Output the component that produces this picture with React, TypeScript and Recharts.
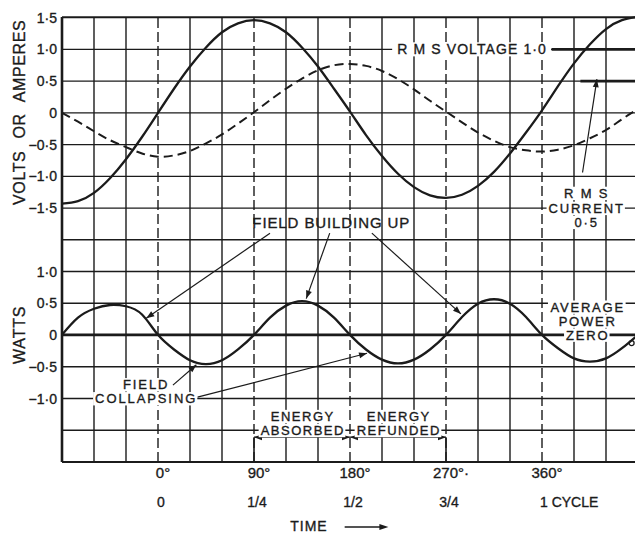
import React from 'react';
import {
  ComposedChart,
  Line,
  XAxis,
  YAxis,
  CartesianGrid,
  ReferenceLine,
  ReferenceDot,
} from 'recharts';

// ---------- data ----------
const angles = [
  -90, -75, -60, -45, -30, -15, 0, 15, 30, 45, 60, 75, 90, 105, 120, 135, 150, 165, 180,
  195, 210, 225, 240, 255, 270, 285, 300, 315, 330, 345, 360, 375, 390, 405, 420, 435, 450,
];
const voltage = [
  -1.43, -1.39, -1.26, -1.03, -0.73, -0.38, 0.0, 0.38, 0.73, 1.03, 1.27, 1.41, 1.46, 1.41,
  1.27, 1.03, 0.73, 0.38, 0.02, -0.35, -0.68, -0.96, -1.17, -1.3, -1.34, -1.29, -1.15, -0.93,
  -0.64, -0.31, 0.04, 0.42, 0.78, 1.08, 1.32, 1.46, 1.51,
];
const current = [
  0.0, -0.14, -0.29, -0.43, -0.54, -0.64, -0.69, -0.67, -0.6, -0.48, -0.34, -0.17, 0.01, 0.2,
  0.38, 0.54, 0.67, 0.75, 0.77, 0.74, 0.66, 0.53, 0.37, 0.19, 0.02, -0.15, -0.31, -0.44, -0.54,
  -0.59, -0.61, -0.58, -0.51, -0.4, -0.27, -0.1, 0.06,
];
const watts = [
  0.0, 0.27, 0.41, 0.47, 0.45, 0.32, 0.0, -0.23, -0.4, -0.46, -0.4, -0.23, 0.0, 0.27, 0.46,
  0.53, 0.46, 0.27, 0.0, -0.23, -0.39, -0.45, -0.39, -0.23, 0.0, 0.28, 0.49, 0.56, 0.49, 0.28,
  0.0, -0.21, -0.37, -0.42, -0.37, -0.21, 0.0,
];

const degreeTicks = [0, 90, 180, 270, 360];
const degreeLabels = ['0°', '90°', '180°', '270°·', '360°'];
const cycleLabels = ['0', '1/4', '1/2', '3/4', '1 CYCLE'];

const solidGridAngles = [-60, -30, 30, 60, 120, 150, 210, 240, 300, 330, 390, 420, 450];
const dashedGridAngles = [0, 90, 180, 270, 360];

const gridLevels = [
  -5.5, -5, -4.5, -4, -3.5, -3, -2.5, -2, -1.5, -1, -0.5, 0, 0.5, 1, 1.5,
];
const voltTickValues = [-1.5, -1, -0.5, 0, 0.5, 1, 1.5];
const voltTickLabels = ['−1·5', '−1·0', '−0·5', '0', '0·5', '1·0', '1·5'];
const wattTickValues = [-1, -0.5, 0, 0.5, 1];
const wattTickLabels = ['−1·0', '−0·5', '0', '0·5', '1·0'];

const VOLT_DOMAIN = [-5.5, 1.5];
const WATT_DOMAIN = [-2, 5];
const X_DOMAIN = [-90, 450];

const rmsVoltage = 1.0;
const rmsCurrent = 0.5;

const INK = '#1b1b1b';
const FONT = '"Liberation Sans", Arial, Helvetica, sans-serif';
const INK_STROKE = 0.35;

const data = angles.map((deg, k) => ({ deg, v: voltage[k], i: current[k], p: watts[k] }));

// ---------- helpers ----------
const wattOffset = WATT_DOMAIN[1] - VOLT_DOMAIN[1];

function yLabel(value: number): string {
  const vi = voltTickValues.findIndex((t) => Math.abs(t - value) < 1e-6);
  if (vi >= 0) return voltTickLabels[vi];
  const w = value + wattOffset;
  const wi = wattTickValues.findIndex((t) => Math.abs(t - w) < 1e-6);
  if (wi >= 0 && value < -1.5) return wattTickLabels[wi];
  return '';
}

const CHAR_W: Record<string, number> = {
  ' ': 0.278, I: 0.278, M: 0.833, W: 0.944, '·': 0.278, '0': 0.556, '1': 0.556, '5': 0.556,
  C: 0.722, G: 0.778, O: 0.778, D: 0.722, N: 0.722, R: 0.722, U: 0.722, H: 0.722,
  A: 0.667, B: 0.667, E: 0.667, P: 0.667, S: 0.667, V: 0.667, Y: 0.667, F: 0.611, T: 0.611,
  Z: 0.611, L: 0.556,
};
function textWidth(t: string, size: number, spacing: number) {
  let s = 0;
  for (const ch of t) s += CHAR_W[ch] ?? 0.667;
  return s * size + spacing * (t.length - 1);
}

const YTick = (props: any) => {
  const { x, y, payload } = props;
  const label = yLabel(payload.value);
  if (!label) return null;
  return (
    <text x={x} y={y} dy="0.36em" textAnchor="end" fontFamily={FONT} fontSize={14} fill={INK} stroke={INK} strokeWidth={INK_STROKE}>
      {label}
    </text>
  );
};

const XTick = (props: any) => {
  const { x, y, payload } = props;
  const k = degreeTicks.indexOf(payload.value);
  if (k < 0) return null;
  const isCycle = k === cycleLabels.length - 1;
  return (
    <g fontFamily={FONT} fill={INK} stroke={INK} strokeWidth={INK_STROKE}>
      <text x={x + 5} y={y + 16} textAnchor="middle" fontSize={15}>
        {degreeLabels[k]}
      </text>
      <text x={isCycle ? x - 2 : x + 3} y={y + 45} textAnchor={isCycle ? 'start' : 'middle'} fontSize={14}>
        {cycleLabels[k]}
      </text>
    </g>
  );
};

function arrowShape(both: boolean, width = 1.2, head = 8, half = 3) {
  return (p: any) => {
    const { x1, y1, x2, y2 } = p;
    const dx = x2 - x1;
    const dy = y2 - y1;
    const L = Math.hypot(dx, dy) || 1;
    const ux = dx / L;
    const uy = dy / L;
    const tri = (tx: number, ty: number, sx: number, sy: number) => {
      const bx = tx - sx * head;
      const by = ty - sy * head;
      return `${tx},${ty} ${bx - sy * half},${by + sx * half} ${bx + sy * half},${by - sx * half}`;
    };
    return (
      <g>
        <line x1={x1} y1={y1} x2={x2} y2={y2} stroke={INK} strokeWidth={width} />
        <polygon points={tri(x2, y2, ux, uy)} fill={INK} />
        {both ? <polygon points={tri(x1, y1, -ux, -uy)} fill={INK} /> : null}
      </g>
    );
  };
}

function textShape(lines: { t: string; dy: number }[], size = 14, spacing = 1.2, boxed = true) {
  return (p: any) => {
    const { cx, cy } = p;
    const cap = size * 0.72;
    return (
      <g>
        {boxed
          ? lines.map((ln, k) => {
              const w = textWidth(ln.t, size, spacing);
              return (
                <rect
                  key={`b${k}`}
                  x={cx - w / 2 - 2}
                  y={cy + ln.dy - cap - 2}
                  width={w + 4}
                  height={cap + 4}
                  fill="#ffffff"
                />
              );
            })
          : null}
        {lines.map((ln, k) => (
          <text
            key={k}
            x={cx + spacing / 2}
            y={cy + ln.dy}
            textAnchor="middle"
            fontFamily={FONT}
            fontSize={size}
            letterSpacing={spacing}
            fill={INK}
            stroke={INK}
            strokeWidth={INK_STROKE}
          >
            {ln.t}
          </text>
        ))}
      </g>
    );
  };
}

const YTitles = (p: any) => {
  const vb = p.viewBox || { x: 0, y: 17, width: 62, height: 445 };
  const span = VOLT_DOMAIN[1] - VOLT_DOMAIN[0];
  const yv = vb.y + ((VOLT_DOMAIN[1] - 0) / span) * vb.height;
  const yw = vb.y + ((WATT_DOMAIN[1] - 0) / span) * vb.height;
  const bx = vb.x + 25;
  return (
    <g fontFamily={FONT} fontSize={16} fill={INK} stroke={INK} strokeWidth={INK_STROKE}>
      <text x={bx} y={yv} transform={`rotate(-90 ${bx} ${yv})`} textAnchor="middle" letterSpacing={0.6} wordSpacing={7}>
        VOLTS OR AMPERES
      </text>
      <text x={bx} y={yw} transform={`rotate(-90 ${bx} ${yw})`} textAnchor="middle" letterSpacing={0.8}>
        WATTS
      </text>
    </g>
  );
};

const TimeLabel = (p: any) => {
  const vb = p.viewBox || { x: 62, y: 462, width: 576, height: 71 };
  const px = (deg: number) => vb.x + ((deg - X_DOMAIN[0]) / (X_DOMAIN[1] - X_DOMAIN[0])) * vb.width;
  const ay = vb.y + 65;
  const ax1 = px(175);
  const ax2 = px(216);
  return (
    <g>
      <text x={px(124)} y={vb.y + 69} fontFamily={FONT} fontSize={14} letterSpacing={1} fill={INK} stroke={INK} strokeWidth={INK_STROKE}>
        TIME
      </text>
      <line x1={ax1} y1={ay} x2={ax2 - 6} y2={ay} stroke={INK} strokeWidth={1.4} />
      <polygon points={`${ax2},${ay} ${ax2 - 9},${ay - 3} ${ax2 - 9},${ay + 3}`} fill={INK} />
    </g>
  );
};

export default function App() {
  return (
    <div
      style={{
        position: 'absolute',
        left: 0,
        top: 0,
        width: 635,
        height: 533,
        overflow: 'hidden',
        background: '#ffffff',
      }}
    >
      <ComposedChart
        width={645}
        height={533}
        data={data}
        margin={{ top: 17, right: 7, bottom: 0, left: 0 }}
      >
        <CartesianGrid yAxisId="v" vertical={false} stroke={INK} strokeWidth={1.4} />
        <XAxis
          dataKey="deg"
          type="number"
          domain={X_DOMAIN}
          ticks={degreeTicks}
          interval={0}
          tick={<XTick />}
          tickLine={false}
          tickSize={0}
          tickMargin={0}
          height={71}
          axisLine={{ stroke: INK, strokeWidth: 2 }}
          label={{ content: TimeLabel } as any}
        />
        <YAxis
          yAxisId="v"
          type="number"
          domain={VOLT_DOMAIN}
          ticks={gridLevels}
          interval={0}
          width={62}
          tick={<YTick />}
          tickLine={false}
          tickSize={0}
          tickMargin={5}
          axisLine={{ stroke: INK, strokeWidth: 2.6 }}
          label={{ content: YTitles } as any}
        />
        <YAxis yAxisId="w" type="number" domain={WATT_DOMAIN} hide />

        {solidGridAngles.map((a) => (
          <ReferenceLine key={`s${a}`} yAxisId="v" x={a} stroke={INK} strokeWidth={1.4} ifOverflow="visible" />
        ))}
        {dashedGridAngles.map((a) => (
          <ReferenceLine
            key={`d${a}`}
            yAxisId="v"
            x={a}
            stroke={INK}
            strokeWidth={1.4}
            strokeDasharray="10 4"
            ifOverflow="visible"
          />
        ))}

        {/* average power zero line */}
        <ReferenceLine yAxisId="w" y={0} stroke={INK} strokeWidth={2.6} />
        {/* RMS voltage and current levels */}
        <ReferenceLine
          yAxisId="v"
          segment={[{ x: 369, y: rmsVoltage }, { x: 450, y: rmsVoltage }]}
          stroke={INK}
          strokeWidth={2.6}
          ifOverflow="visible"
        />
        <ReferenceLine
          yAxisId="v"
          segment={[{ x: 396, y: rmsCurrent }, { x: 450, y: rmsCurrent }]}
          stroke={INK}
          strokeWidth={2.6}
          ifOverflow="visible"
        />

        <Line yAxisId="v" dataKey="v" type="natural" stroke={INK} strokeWidth={2.3} dot={false} activeDot={false} isAnimationActive={false} />
        <Line yAxisId="v" dataKey="i" type="natural" stroke={INK} strokeWidth={2} strokeDasharray="9 5" dot={false} activeDot={false} isAnimationActive={false} />
        <Line yAxisId="w" dataKey="p" type="natural" stroke={INK} strokeWidth={2.3} dot={false} activeDot={false} isAnimationActive={false} />

        {/* arrows */}
        <ReferenceLine yAxisId="v" segment={[{ x: 398, y: -0.94 }, { x: 411.5, y: 0.53 }]} shape={arrowShape(false)} ifOverflow="visible" />
        <ReferenceLine yAxisId="w" segment={[{ x: 105, y: 1.6 }, { x: -11, y: 0.26 }]} shape={arrowShape(false)} ifOverflow="visible" />
        <ReferenceLine yAxisId="w" segment={[{ x: 161, y: 1.6 }, { x: 139, y: 0.57 }]} shape={arrowShape(false)} ifOverflow="visible" />
        <ReferenceLine yAxisId="w" segment={[{ x: 200.5, y: 1.6 }, { x: 284, y: 0.33 }]} shape={arrowShape(false)} ifOverflow="visible" />
        <ReferenceLine yAxisId="w" segment={[{ x: 14, y: -0.79 }, { x: 36, y: -0.47 }]} shape={arrowShape(false)} ifOverflow="visible" />
        <ReferenceLine yAxisId="w" segment={[{ x: 37, y: -0.98 }, { x: 196, y: -0.29 }]} shape={arrowShape(false)} ifOverflow="visible" />
        <ReferenceLine yAxisId="w" segment={[{ x: 90, y: -1.61 }, { x: 180, y: -1.61 }]} shape={arrowShape(true)} ifOverflow="visible" />
        <ReferenceLine yAxisId="w" segment={[{ x: 180, y: -1.61 }, { x: 270, y: -1.61 }]} shape={arrowShape(true)} ifOverflow="visible" />
        <ReferenceLine yAxisId="w" segment={[{ x: 90, y: -1.61 }, { x: 90, y: -2 }]} stroke={INK} strokeWidth={1.6} ifOverflow="visible" />
        <ReferenceLine yAxisId="w" segment={[{ x: 270, y: -1.61 }, { x: 270, y: -2 }]} stroke={INK} strokeWidth={1.6} ifOverflow="visible" />

        {/* text annotations */}
        <ReferenceDot yAxisId="v" x={294} y={rmsVoltage} r={0} ifOverflow="visible"
          shape={textShape([{ t: 'R M S  VOLTAGE 1·0', dy: 5 }], 14, 1.1)} />
        <ReferenceDot yAxisId="v" x={401} y={-1.5} r={0} ifOverflow="visible"
          shape={textShape([{ t: 'R M S', dy: -10 }, { t: 'CURRENT', dy: 5 }, { t: '0·5', dy: 19 }], 13, 1.8)} />
        <ReferenceDot yAxisId="v" x={162} y={-1.82} r={0} ifOverflow="visible"
          shape={textShape([{ t: 'FIELD  BUILDING  UP', dy: 0 }], 15, 0.9, false)} />
        <ReferenceDot yAxisId="w" x={-12} y={-1} r={0} ifOverflow="visible"
          shape={textShape([{ t: 'FIELD', dy: -9 }, { t: 'COLLAPSING', dy: 5 }], 13, 1.9)} />
        <ReferenceDot yAxisId="w" x={402} y={0} r={0} ifOverflow="visible"
          shape={textShape([{ t: 'AVERAGE', dy: -23 }, { t: 'POWER', dy: -9 }, { t: 'ZERO', dy: 5 }], 13, 1.8)} />
        <ReferenceDot yAxisId="w" x={135} y={-1.5} r={0} ifOverflow="visible"
          shape={textShape([{ t: 'ENERGY', dy: -9 }, { t: 'ABSORBED', dy: 5 }], 13, 1.5)} />
        <ReferenceDot yAxisId="w" x={225} y={-1.5} r={0} ifOverflow="visible"
          shape={textShape([{ t: 'ENERGY', dy: -9 }, { t: 'REFUNDED', dy: 5 }], 13, 1.5)} />
        <ReferenceDot yAxisId="w" x={444} y={-0.13} r={2.5} fill="none" stroke={INK} strokeWidth={1.3} ifOverflow="visible" />
      </ComposedChart>
    </div>
  );
}
